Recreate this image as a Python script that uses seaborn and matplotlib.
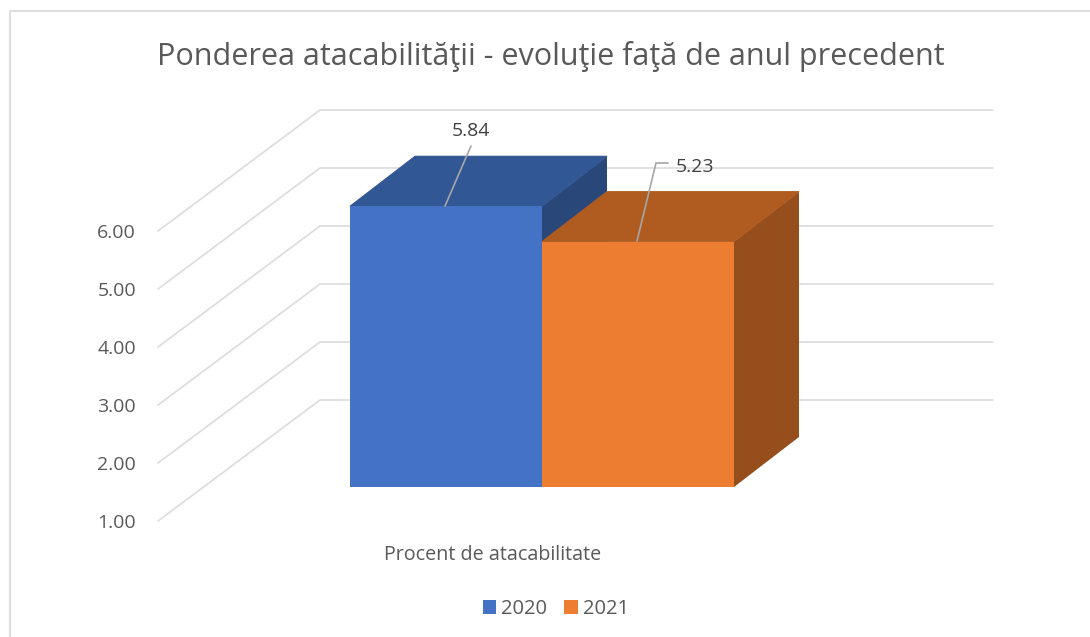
import numpy as np
import pandas as pd
import matplotlib
matplotlib.use('Agg')
import matplotlib.pyplot as plt
from matplotlib.patches import Polygon, Patch
from matplotlib.transforms import Affine2D
import seaborn as sns

years = ['2020', '2021']
values = [5.84, 5.23]
category = 'Procent de atacabilitate'
y_ticks = [1, 2, 3, 4, 5, 6]
title = 'Ponderea atacabilităţii - evoluţie faţă de anul precedent'

front_colors = ['#4472C4', '#ED7D31']
top_colors = ['#325795', '#B05C21']
side_colors = ['#2A4779', '#964E1C']
TEXT = '#595959'
GRID = '#DEDEDE'

W, H = 1090, 637
PX_PER_UNIT = 58.0    # one value unit on screen
BASE_Y = 487          # pixel row of the value 1 in the bar plane
CENTER_X = 542
PX_PER_CAT = 480.0    # one category unit on screen

sns.set_theme(style='white')
plt.rcParams['font.family'] = ['Open Sans', 'DejaVu Sans']

fig = plt.figure(figsize=(W / 100, H / 100), dpi=100)
ax = fig.add_axes([0, (H - BASE_Y) / H, 1, BASE_Y / H])
px = Affine2D().scale(1 / W, -1 / H).translate(0, 1) + fig.transFigure

df = pd.DataFrame({'cat': [category] * 2, 'an': years, 'val': values})
sns.barplot(data=df, x='cat', y='val', hue='an', palette=front_colors, saturation=1,
            width=0.8, gap=0, legend=False, zorder=3, linewidth=0, ax=ax)
ax.set_xlim(-CENTER_X / PX_PER_CAT, (W - CENTER_X) / PX_PER_CAT)
ax.set_ylim(1, 1 + BASE_Y / PX_PER_UNIT)
ax.axis('off')


def vx(x_px):
    return (x_px - CENTER_X) / PX_PER_CAT


def vy(shift_px):
    return shift_px / PX_PER_UNIT


# walls: front edge, back edge, then along the back wall
for t in y_ticks:
    xs = [vx(158), vx(320), vx(993)]
    ys = [t - vy(34), t + vy(87), t + vy(87)]
    ax.plot(xs, ys, color=GRID, lw=1.3, clip_on=False, zorder=1)
    ax.text(136, BASE_Y + 36.5 - (t - 1) * PX_PER_UNIT, f'{t:.2f}', transform=px, ha='right',
            va='center', color=TEXT, fontsize=14)

# depth faces of the bars, drawn under the front faces
dx, dy = 65 / PX_PER_CAT, vy(50)
for bar, val, top, side in zip(list(ax.patches), values, top_colors, side_colors):
    x0, x1 = bar.get_x(), bar.get_x() + bar.get_width()
    ax.add_patch(Polygon([(x1, val), (x1 + dx, val + dy), (x1 + dx, 1 + dy), (x1, 1)],
                         fc=side, ec='none', zorder=2))
    # thin edge in the face colour, otherwise the blue side shows along the orange top
    ax.add_patch(Polygon([(x0, val), (x1, val), (x1 + dx, val + dy), (x0 + dx, val + dy)],
                         fc=top, ec=top, lw=0.8, zorder=2))

# data labels and leader lines
ax.plot([445, 471], [206, 146], color='#A6A6A6', lw=1.2, transform=px, zorder=4)
ax.plot([637, 656, 668], [241, 163, 163], color='#A6A6A6', lw=1.2, transform=px, zorder=4)
ax.text(471, 131, f'{values[0]:.2f}', transform=px, ha='center', va='center', color='#404040', fontsize=14, zorder=5)
ax.text(695, 167, f'{values[1]:.2f}', transform=px, ha='center', va='center', color='#404040', fontsize=14, zorder=5)

ax.text(493, 555, category, transform=px, ha='center', va='center', color=TEXT, fontsize=14.2)
ax.text(551, 56, title, transform=px, ha='center', va='center', color=TEXT, fontsize=22)

handles = [Patch(fc=c, ec='none', label=y) for c, y in zip(front_colors, years)]
fig.legend(handles=handles, loc='center', bbox_to_anchor=(556 / W, 1 - 609 / H), ncol=2, frameon=False,
           fontsize=14.5, labelcolor=TEXT, handlelength=0.68, handleheight=0.68, handletextpad=0.25,
           columnspacing=0.85)

# chart frame, runs off the picture on the right and bottom
fig.add_artist(plt.Line2D([W + 5, 10, 10], [11, 11, H + 5], color=GRID, lw=1.5, transform=px))

fig.savefig('out.png', dpi=100)
